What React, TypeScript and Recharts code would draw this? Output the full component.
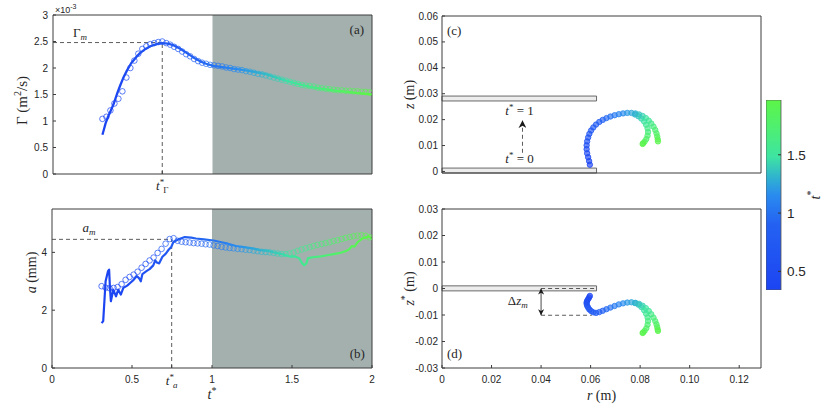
import React from 'react';
import {
  ComposedChart, Line, Scatter, XAxis, YAxis, ReferenceArea, ReferenceLine, ReferenceDot, BarChart, Bar,
} from 'recharts';

// ---------------- style constants ----------------
const SANS = '"Liberation Sans", Arial, sans-serif';
const SERIF = '"Liberation Serif", "Times New Roman", serif';
const INK = '#262626';
const FRAME = '#3c3c3c';
const SHADE = '#a4b0ae';
const PLATE_FILL = '#ececec';
const PLATE_STROKE = '#5a5a5a';
const GUIDE = '#333333';

// ---------------- colour map t* ----------------
const CB_MIN = 0.34;
const CB_MAX = 1.97;
const CB_TICKS = [0.5, 1, 1.5];
const CB_STOP_POS = [0, 0.35, 0.5, 0.6, 0.7, 0.85, 1];
const CB_STOP_COL = ['#1c44f2', '#2462f2', '#2a8cef', '#30b6cc', '#3ee4a2', '#4eef72', '#5cf548'];

// ---------------- panels (a) and (b): time axis ----------------
const T_TICKS = [0, 0.5, 1, 1.5, 2];
const SHADE_FROM = 1;
const SHADE_TO = 2;

const tCircles = [0.31, 0.335, 0.36, 0.385, 0.41, 0.435, 0.46, 0.485, 0.51, 0.535, 0.56, 0.585, 0.61, 0.635, 0.66, 0.685, 0.71, 0.735, 0.76, 0.785, 0.81, 0.835, 0.86, 0.885, 0.91, 0.935, 0.96, 0.985, 1.01, 1.035, 1.06, 1.085, 1.11, 1.135, 1.16, 1.185, 1.21, 1.235, 1.26, 1.285, 1.31, 1.335, 1.36, 1.385, 1.41, 1.435, 1.46, 1.485, 1.51, 1.535, 1.56, 1.585, 1.61, 1.635, 1.66, 1.685, 1.71, 1.735, 1.76, 1.785, 1.81, 1.835, 1.86, 1.885, 1.91, 1.935, 1.96, 1.985];

// (a) circulation, units 1e-3 m^2/s
const GAMMA_TICKS = [0, 0.5, 1, 1.5, 2, 2.5, 3];
const gammaCircles = [1.04, 1.08, 1.20, 1.33, 1.42, 1.56, 1.82, 2.00, 2.14, 2.27, 2.36, 2.41, 2.45, 2.47, 2.49, 2.50, 2.47, 2.44, 2.40, 2.36, 2.31, 2.26, 2.22, 2.17, 2.13, 2.10, 2.08, 2.06, 2.05, 2.04, 2.03, 2.01, 2.00, 1.98, 1.97, 1.96, 1.94, 1.93, 1.91, 1.89, 1.88, 1.86, 1.84, 1.82, 1.80, 1.78, 1.76, 1.74, 1.72, 1.70, 1.68, 1.67, 1.66, 1.65, 1.63, 1.62, 1.61, 1.60, 1.59, 1.58, 1.58, 1.57, 1.57, 1.56, 1.56, 1.55, 1.55, 1.54];
const tLineA = [0.31, 0.32, 0.33, 0.345, 0.36, 0.38, 0.40, 0.42, 0.44, 0.465, 0.49, 0.52, 0.545, 0.58, 0.61, 0.65, 0.685, 0.72, 0.755, 0.80, 0.84, 0.88, 0.92, 0.96, 1.005, 1.05, 1.13, 1.20, 1.27, 1.34, 1.40, 1.45, 1.50, 1.56, 1.62, 1.68, 1.75, 1.82, 1.90, 2.00];
const gammaLine = [0.74, 0.85, 0.96, 1.08, 1.18, 1.32, 1.50, 1.66, 1.81, 1.96, 2.09, 2.20, 2.28, 2.36, 2.41, 2.45, 2.47, 2.46, 2.43, 2.36, 2.28, 2.20, 2.13, 2.08, 2.04, 2.02, 1.99, 1.96, 1.92, 1.88, 1.82, 1.77, 1.73, 1.68, 1.64, 1.61, 1.58, 1.56, 1.53, 1.50];
const T_GAMMA_PEAK = 0.685;
const GAMMA_PEAK = 2.48;

// (b) core radius, mm
const A_TICKS = [0, 2, 4];
const aCircles = [2.83, 2.78, 2.76, 2.77, 2.80, 2.90, 3.05, 3.15, 3.23, 3.33, 3.47, 3.60, 3.72, 3.82, 3.98, 4.12, 4.30, 4.46, 4.49, 4.40, 4.37, 4.35, 4.34, 4.32, 4.31, 4.30, 4.28, 4.27, 4.24, 4.22, 4.19, 4.17, 4.15, 4.14, 4.12, 4.11, 4.09, 4.08, 4.06, 4.04, 4.02, 4.01, 4.00, 3.98, 3.96, 3.94, 3.94, 3.96, 3.99, 4.05, 4.10, 4.14, 4.18, 4.22, 4.26, 4.29, 4.32, 4.35, 4.39, 4.42, 4.46, 4.50, 4.53, 4.56, 4.58, 4.59, 4.57, 4.52];
const tLineB = [0.31, 0.32, 0.335, 0.35, 0.357, 0.362, 0.368, 0.383, 0.40, 0.414, 0.43, 0.446, 0.47, 0.49, 0.51, 0.53, 0.545, 0.555, 0.565, 0.59, 0.61, 0.633, 0.645, 0.655, 0.67, 0.69, 0.71, 0.73, 0.745, 0.758, 0.79, 0.83, 0.87, 0.90, 0.95, 1.01, 1.06, 1.10, 1.15, 1.20, 1.25, 1.30, 1.35, 1.40, 1.45, 1.49, 1.52, 1.545, 1.56, 1.575, 1.59, 1.60, 1.63, 1.68, 1.72, 1.76, 1.80, 1.84, 1.86, 1.875, 1.89, 1.91, 1.935, 1.96, 1.98, 2.00];
const aLine = [1.55, 1.62, 3.00, 3.35, 3.40, 2.80, 2.31, 2.71, 2.48, 2.71, 2.54, 2.77, 2.85, 2.95, 3.05, 3.18, 3.10, 3.00, 3.25, 3.35, 3.42, 3.55, 3.72, 3.65, 3.62, 3.85, 3.95, 4.10, 4.18, 4.35, 4.45, 4.53, 4.51, 4.48, 4.45, 4.41, 4.35, 4.30, 4.22, 4.18, 4.14, 4.08, 4.05, 3.98, 3.92, 3.85, 3.86, 3.80, 3.65, 3.55, 3.62, 3.80, 3.83, 3.86, 3.90, 3.94, 3.98, 4.05, 4.12, 4.22, 4.20, 4.35, 4.46, 4.52, 4.55, 4.48];
const T_A_PEAK = 0.748;
const A_PEAK = 4.45;

// ---------------- panels (c) and (d): trajectories ----------------
const R_TICKS = [0, 0.02, 0.04, 0.06, 0.08, 0.1, 0.12];
const R_MAX = 0.1288;
const Z_TICKS = [0, 0.01, 0.02, 0.03, 0.04, 0.05, 0.06];
const ZS_TICKS = [-0.03, -0.02, -0.01, 0, 0.01, 0.02, 0.03];

const tTrack = [0.34, 0.38, 0.42, 0.46, 0.50, 0.54, 0.58, 0.62, 0.66, 0.70, 0.75, 0.80, 0.85, 0.90, 0.95, 1.00, 1.05, 1.10, 1.15, 1.20, 1.25, 1.30, 1.36, 1.42, 1.48, 1.54, 1.60, 1.66, 1.72, 1.78, 1.84, 1.90, 1.95];
const rTrack = [0.0597, 0.0594, 0.0590, 0.0586, 0.0584, 0.0584, 0.0586, 0.0590, 0.0595, 0.0602, 0.0611, 0.0622, 0.0635, 0.0649, 0.0664, 0.0680, 0.0697, 0.0714, 0.0731, 0.0748, 0.0765, 0.0781, 0.0796, 0.0810, 0.0823, 0.0835, 0.0845, 0.0854, 0.0861, 0.0866, 0.0869, 0.0871, 0.0872];
const zTrack = [0.0026, 0.0040, 0.0055, 0.0070, 0.0086, 0.0101, 0.0116, 0.0131, 0.0145, 0.0158, 0.0170, 0.0181, 0.0191, 0.0199, 0.0206, 0.0212, 0.0217, 0.0221, 0.0224, 0.0226, 0.0226, 0.0224, 0.0220, 0.0214, 0.0206, 0.0196, 0.0185, 0.0173, 0.0160, 0.0147, 0.0135, 0.0124, 0.0116];
const zsTrack = [-0.0028, -0.0034, -0.0040, -0.0046, -0.0052, -0.0058, -0.0065, -0.0072, -0.0079, -0.0085, -0.0090, -0.0092, -0.0089, -0.0084, -0.0078, -0.0072, -0.0066, -0.0060, -0.0056, -0.0053, -0.0052, -0.0054, -0.0058, -0.0065, -0.0074, -0.0085, -0.0097, -0.0110, -0.0123, -0.0135, -0.0146, -0.0155, -0.0160];

const tBranch = [1.30, 1.36, 1.42, 1.48, 1.54, 1.60, 1.66, 1.72, 1.78, 1.84, 1.90, 1.95];
const rBranch = [0.0779, 0.0793, 0.0805, 0.0816, 0.0824, 0.0830, 0.0832, 0.0830, 0.0825, 0.0818, 0.0812, 0.0810];
const zBranch = [0.0220, 0.0213, 0.0204, 0.0193, 0.0180, 0.0166, 0.0152, 0.0138, 0.0125, 0.0115, 0.0109, 0.0106];
const zsBranch = [-0.0055, -0.0061, -0.0070, -0.0082, -0.0095, -0.0109, -0.0123, -0.0137, -0.0150, -0.0160, -0.0166, -0.0168];

// nozzle plates (r extent and z extents)
const PLATE_R = 0.0624;
const PLATE_TOP_C = [0.0272, 0.0291];
const PLATE_BOT_C = [-0.0006, 0.0013];
const PLATE_D = [-0.0009, 0.001];
const Z_C_MIN = -0.0006;

// annotations
const ARROW_R = 0.0325;
const ARROW_Z = [0.0072, 0.0198];
const DZ_R = 0.04;
const DZ_M = -0.0101;
const DZ_R_END = 0.0605;

// ---------------- helpers ----------------
function hexRgb(h: string) {
  const n = parseInt(h.slice(1), 16);
  return [(n >> 16) & 255, (n >> 8) & 255, n & 255];
}
function tColor(t: number) {
  const f = Math.max(0, Math.min(1, (t - CB_MIN) / (CB_MAX - CB_MIN)));
  for (let i = 1; i < CB_STOP_POS.length; i++) {
    if (f <= CB_STOP_POS[i]) {
      const u = (f - CB_STOP_POS[i - 1]) / (CB_STOP_POS[i] - CB_STOP_POS[i - 1]);
      const a = hexRgb(CB_STOP_COL[i - 1]);
      const b = hexRgb(CB_STOP_COL[i]);
      const c = a.map((v, k) => Math.round(v + (b[k] - v) * u));
      return `rgb(${c[0]},${c[1]},${c[2]})`;
    }
  }
  return CB_STOP_COL[CB_STOP_COL.length - 1];
}

function tGradient(id: string, ts: number[]) {
  const lo = ts[0];
  const hi = ts[ts.length - 1];
  const n = 16;
  return (
    <linearGradient id={id} x1="0" y1="0" x2="1" y2="0">
      {Array.from({ length: n + 1 }, (_, k) => (
        <stop key={k} offset={k / n} stopColor={tColor(lo + ((hi - lo) * k) / n)} />
      ))}
    </linearGradient>
  );
}

const Ring = (p: any) =>
  p.cx == null ? null : (
    <circle cx={p.cx} cy={p.cy} r={2.8} fill="none" stroke={tColor(p.payload.t)} strokeWidth={0.8} strokeOpacity={0.9} />
  );

const Dotlet = (p: any) =>
  p.cx == null ? null : (
    <circle cx={p.cx} cy={p.cy} r={2.7} fill={tColor(p.payload.t)} fillOpacity={0.65} stroke={tColor(p.payload.t)} strokeWidth={0.8} />
  );

const tickFont = { fontSize: 10, fill: INK, fontFamily: SANS };

function note(key: string, x: number, y: number, render: (cx: number, cy: number) => React.ReactNode) {
  return (
    <ReferenceDot
      key={key}
      x={x}
      y={y}
      r={0}
      fill="none"
      stroke="none"
      label={(p: any) => <g>{render(p.viewBox.x, p.viewBox.y)}</g>}
    />
  );
}

const serifText = { fontFamily: SERIF, fill: INK };

// ---------------- panel (a) ----------------
const TGammaTick = (p: any) => (
  <text x={p.x} y={p.y + 13} textAnchor="middle" fontSize={13} {...serifText}>
    <tspan fontStyle="italic">t</tspan>
    <tspan fontSize={9} dy={-5}>*</tspan>
    <tspan fontSize={9} dx={-1} dy={8}>Γ</tspan>
  </text>
);

function PanelA() {
  const circles = tCircles.map((t, i) => ({ x: t, y: gammaCircles[i], t }));
  const line = tLineA.map((t, i) => ({ x: t, y: gammaLine[i] }));
  return (
    <ComposedChart width={380} height={200} margin={{ top: 0, right: 0, bottom: 0, left: 0 }}>
      <defs>{tGradient('gradLineA', tLineA)}</defs>
      <XAxis xAxisId="top" orientation="top" type="number" domain={[0, 2]} allowDataOverflow height={15}
        tick={false} tickLine={false} axisLine={{ stroke: FRAME }} />
      <XAxis dataKey="x" type="number" domain={[0, 2]} allowDataOverflow height={26} ticks={[T_GAMMA_PEAK]}
        tickSize={-3} tickMargin={6} tick={<TGammaTick />} axisLine={{ stroke: FRAME }} tickLine={{ stroke: FRAME }} />
      <YAxis dataKey="y" type="number" domain={[0, 3]} allowDataOverflow width={53} ticks={GAMMA_TICKS}
        tickSize={-3} tickMargin={8} tick={tickFont} axisLine={{ stroke: FRAME }} tickLine={{ stroke: FRAME }}
        label={(p: any) => {
          const vb = p.viewBox;
          return (
            <g>
              <text transform={`translate(${vb.x + 22},${vb.y + vb.height / 2 + 6}) rotate(-90)`} textAnchor="middle"
                dominantBaseline="central" fontSize={15} {...serifText}>
                Γ (m<tspan fontSize={10} dy={-5}>2</tspan><tspan dy={5}>/s)</tspan>
              </text>
              <text x={vb.x + vb.width + 2} y={vb.y - 2} fontSize={9} fontFamily={SANS} fill={INK}>
                ×10<tspan fontSize={7} dy={-4}>-3</tspan>
              </text>
            </g>
          );
        }} />
      <YAxis yAxisId="right" orientation="right" type="number" domain={[0, 3]} allowDataOverflow width={8}
        ticks={GAMMA_TICKS} tickSize={-3} tick={false} axisLine={{ stroke: FRAME }} tickLine={{ stroke: FRAME }} />
      <ReferenceArea x1={SHADE_FROM} x2={SHADE_TO} fill={SHADE} fillOpacity={1} stroke="none" />
      <ReferenceLine segment={[{ x: 0, y: GAMMA_PEAK }, { x: T_GAMMA_PEAK, y: GAMMA_PEAK }]} stroke={GUIDE}
        strokeDasharray="4 3" strokeWidth={0.8} />
      <ReferenceLine segment={[{ x: T_GAMMA_PEAK, y: 0 }, { x: T_GAMMA_PEAK, y: GAMMA_PEAK }]} stroke={GUIDE}
        strokeDasharray="4 3" strokeWidth={0.8} />
      <Scatter data={circles} shape={Ring} isAnimationActive={false} />
      <Line data={line} dataKey="y" type="linear" stroke="url(#gradLineA)" strokeWidth={2.3} dot={false}
        activeDot={false} isAnimationActive={false} strokeLinejoin="round" />
      {note('gm', 0.125, 2.585, (x, y) => (
        <text x={x} y={y} fontSize={13} {...serifText}>Γ<tspan fontSize={9} fontStyle="italic" dy={3}>m</tspan></text>
      ))}
      {note('pa', 1.95, 2.64, (x, y) => (
        <text x={x} y={y} fontSize={13} textAnchor="end" {...serifText}>(a)</text>
      ))}
    </ComposedChart>
  );
}

// ---------------- panel (b) ----------------
const BTick = (p: any) => {
  const v = p.payload.value;
  if (Math.abs(v - T_A_PEAK) < 1e-6) {
    return (
      <text x={p.x} y={p.y + 9} textAnchor="middle" fontSize={13} {...serifText}>
        <tspan fontStyle="italic">t</tspan>
        <tspan fontSize={9} dy={-5}>*</tspan>
        <tspan fontSize={9} fontStyle="italic" dx={-1} dy={8}>a</tspan>
      </text>
    );
  }
  return (
    <text x={p.x} y={p.y + 7} textAnchor="middle" fontSize={10} fontFamily={SANS} fill={INK}>{String(v)}</text>
  );
};

function PanelB() {
  const circles = tCircles.map((t, i) => ({ x: t, y: aCircles[i], t }));
  const line = tLineB.map((t, i) => ({ x: t, y: aLine[i] }));
  const xTicks = [...T_TICKS, T_A_PEAK].sort((p, q) => p - q);
  return (
    <ComposedChart width={380} height={216} margin={{ top: 0, right: 0, bottom: 0, left: 0 }}>
      <defs>{tGradient('gradLineB', tLineB)}</defs>
      <XAxis xAxisId="top" orientation="top" type="number" domain={[0, 2]} allowDataOverflow height={9}
        ticks={T_TICKS} tickSize={-3} tick={false} axisLine={{ stroke: FRAME }} tickLine={{ stroke: FRAME }} />
      <XAxis dataKey="x" type="number" domain={[0, 2]} allowDataOverflow height={48} ticks={xTicks}
        tickSize={-3} tickMargin={11} tick={<BTick />} axisLine={{ stroke: FRAME }} tickLine={{ stroke: FRAME }}
        label={(p: any) => {
          const vb = p.viewBox;
          return (
            <text x={vb.x + vb.width / 2} y={vb.y + 31} textAnchor="middle" fontSize={14} {...serifText}>
              <tspan fontStyle="italic">t</tspan><tspan fontSize={10} dy={-5}>*</tspan>
            </text>
          );
        }} />
      <YAxis dataKey="y" type="number" domain={[0, 5.5]} allowDataOverflow width={52} ticks={A_TICKS}
        tickSize={-3} tickMargin={8} tick={tickFont} axisLine={{ stroke: FRAME }} tickLine={{ stroke: FRAME }}
        label={(p: any) => {
          const vb = p.viewBox;
          return (
            <text transform={`translate(${vb.x + 31},${vb.y + vb.height / 2 - 16}) rotate(-90)`} textAnchor="middle"
              dominantBaseline="central" fontSize={14} {...serifText}>
              <tspan fontStyle="italic">a</tspan> (mm)
            </text>
          );
        }} />
      <YAxis yAxisId="right" orientation="right" type="number" domain={[0, 5.5]} allowDataOverflow width={8}
        ticks={A_TICKS} tickSize={-3} tick={false} axisLine={{ stroke: FRAME }} tickLine={{ stroke: FRAME }} />
      <ReferenceArea x1={SHADE_FROM} x2={SHADE_TO} fill={SHADE} fillOpacity={1} stroke="none" />
      <ReferenceLine segment={[{ x: 0, y: A_PEAK }, { x: T_A_PEAK, y: A_PEAK }]} stroke={GUIDE}
        strokeDasharray="4 3" strokeWidth={0.8} />
      <ReferenceLine segment={[{ x: T_A_PEAK, y: 0 }, { x: T_A_PEAK, y: A_PEAK }]} stroke={GUIDE}
        strokeDasharray="4 3" strokeWidth={0.8} />
      <Scatter data={circles} shape={Ring} isAnimationActive={false} />
      <Line data={line} dataKey="y" type="linear" stroke="url(#gradLineB)" strokeWidth={2.2} dot={false}
        activeDot={false} isAnimationActive={false} strokeLinejoin="round" />
      {note('am', 0.19, 4.7, (x, y) => (
        <text x={x} y={y} fontSize={13} {...serifText}>
          <tspan fontStyle="italic">a</tspan><tspan fontSize={9} fontStyle="italic" dy={3}>m</tspan>
        </text>
      ))}
      {note('pb', 1.955, 0.35, (x, y) => (
        <text x={x} y={y} fontSize={13} textAnchor="end" {...serifText}>(b)</text>
      ))}
    </ComposedChart>
  );
}

// ---------------- panel (c) ----------------
function PanelC() {
  const track = tTrack.map((t, i) => ({ x: rTrack[i], y: zTrack[i], t }));
  const branch = tBranch.map((t, i) => ({ x: rBranch[i], y: zBranch[i], t }));
  return (
    <ComposedChart width={376} height={200} margin={{ top: 0, right: 0, bottom: 0, left: 0 }}>
      <defs>
        <marker id="arrUp" viewBox="0 0 10 10" refX="10" refY="5" markerWidth="8" markerHeight="8"
          markerUnits="userSpaceOnUse" orient="auto">
          <path d="M0,0 L10,5 L0,10 L3,5 z" fill="#1a1a1a" />
        </marker>
      </defs>
      <XAxis xAxisId="top" orientation="top" type="number" domain={[0, R_MAX]} allowDataOverflow height={16}
        ticks={R_TICKS} tickSize={-3} tick={false} axisLine={{ stroke: FRAME }} tickLine={{ stroke: FRAME }} />
      <XAxis dataKey="x" type="number" domain={[0, R_MAX]} allowDataOverflow height={27} ticks={R_TICKS}
        tickSize={-3} tick={false} axisLine={{ stroke: FRAME }} tickLine={{ stroke: FRAME }} />
      <YAxis dataKey="y" type="number" domain={[Z_C_MIN, 0.06]} allowDataOverflow width={52} ticks={Z_TICKS}
        tickSize={-3} tickMargin={7} tick={tickFont} axisLine={{ stroke: FRAME }} tickLine={{ stroke: FRAME }}
        label={(p: any) => {
          const vb = p.viewBox;
          return (
            <text transform={`translate(${vb.x + 19},${vb.y + vb.height / 2}) rotate(-90)`} textAnchor="middle"
              dominantBaseline="central" fontSize={14} {...serifText}>
              <tspan fontStyle="italic">z</tspan> (m)
            </text>
          );
        }} />
      <YAxis yAxisId="right" orientation="right" type="number" domain={[Z_C_MIN, 0.06]} allowDataOverflow width={5}
        ticks={Z_TICKS} tickSize={-3} tick={false} axisLine={{ stroke: FRAME }} tickLine={{ stroke: FRAME }} />
      <ReferenceArea x1={0} x2={PLATE_R} y1={PLATE_TOP_C[0]} y2={PLATE_TOP_C[1]} fill={PLATE_FILL} fillOpacity={1}
        stroke={PLATE_STROKE} strokeWidth={0.9} />
      <ReferenceArea x1={0} x2={PLATE_R} y1={PLATE_BOT_C[0]} y2={PLATE_BOT_C[1]} fill={PLATE_FILL} fillOpacity={1}
        stroke={PLATE_STROKE} strokeWidth={0.9} />
      <ReferenceLine segment={[{ x: ARROW_R, y: ARROW_Z[0] }, { x: ARROW_R, y: ARROW_Z[1] }]} stroke={GUIDE}
        strokeDasharray="4 3" strokeWidth={0.8} markerEnd="url(#arrUp)" />
      <Scatter data={track} shape={Dotlet} isAnimationActive={false} />
      <Scatter data={branch} shape={Dotlet} isAnimationActive={false} />
      {note('t1', 0.0313, 0.0218, (x, y) => (
        <text x={x} y={y} fontSize={13} textAnchor="middle" {...serifText}>
          <tspan fontStyle="italic">t</tspan><tspan fontSize={9} dy={-5}>*</tspan><tspan dy={5}> = 1</tspan>
        </text>
      ))}
      {note('t0', 0.0313, 0.0033, (x, y) => (
        <text x={x} y={y} fontSize={13} textAnchor="middle" {...serifText}>
          <tspan fontStyle="italic">t</tspan><tspan fontSize={9} dy={-5}>*</tspan><tspan dy={5}> = 0</tspan>
        </text>
      ))}
      {note('pc', 0.002, 0.0526, (x, y) => (
        <text x={x} y={y} fontSize={13} {...serifText}>(c)</text>
      ))}
    </ComposedChart>
  );
}

// ---------------- panel (d) ----------------
const rFmt = (v: number) => (v === 0 ? '0' : v.toFixed(2));

function PanelD() {
  const track = tTrack.map((t, i) => ({ x: rTrack[i], y: zsTrack[i], t }));
  const branch = tBranch.map((t, i) => ({ x: rBranch[i], y: zsBranch[i], t }));
  return (
    <ComposedChart width={376} height={216} margin={{ top: 0, right: 0, bottom: 0, left: 0 }}>
      <defs>
        <marker id="arrDz" viewBox="0 0 10 10" refX="10" refY="5" markerWidth="6" markerHeight="6"
          markerUnits="userSpaceOnUse" orient="auto-start-reverse">
          <path d="M0,0 L10,5 L0,10 L3,5 z" fill="#1a1a1a" />
        </marker>
      </defs>
      <XAxis xAxisId="top" orientation="top" type="number" domain={[0, R_MAX]} allowDataOverflow height={9}
        ticks={R_TICKS} tickSize={-3} tick={false} axisLine={{ stroke: FRAME }} tickLine={{ stroke: FRAME }} />
      <XAxis dataKey="x" type="number" domain={[0, R_MAX]} allowDataOverflow height={48} ticks={R_TICKS}
        tickSize={-3} tickMargin={11} tick={tickFont} tickFormatter={rFmt} axisLine={{ stroke: FRAME }}
        tickLine={{ stroke: FRAME }}
        label={(p: any) => {
          const vb = p.viewBox;
          return (
            <text x={vb.x + vb.width / 2} y={vb.y + 32} textAnchor="middle" fontSize={14} {...serifText}>
              <tspan fontStyle="italic">r</tspan> (m)
            </text>
          );
        }} />
      <YAxis dataKey="y" type="number" domain={[-0.03, 0.03]} allowDataOverflow width={52} ticks={ZS_TICKS}
        tickSize={-3} tickMargin={7} tick={tickFont} axisLine={{ stroke: FRAME }} tickLine={{ stroke: FRAME }}
        label={(p: any) => {
          const vb = p.viewBox;
          return (
            <text transform={`translate(${vb.x + 19},${vb.y + vb.height / 2}) rotate(-90)`} textAnchor="middle"
              dominantBaseline="central" fontSize={14} {...serifText}>
              <tspan fontStyle="italic">z</tspan><tspan fontSize={10} dy={-5}>*</tspan><tspan dy={5}> (m)</tspan>
            </text>
          );
        }} />
      <YAxis yAxisId="right" orientation="right" type="number" domain={[-0.03, 0.03]} allowDataOverflow width={5}
        ticks={ZS_TICKS} tickSize={-3} tick={false} axisLine={{ stroke: FRAME }} tickLine={{ stroke: FRAME }} />
      <ReferenceArea x1={0} x2={PLATE_R} y1={PLATE_D[0]} y2={PLATE_D[1]} fill={PLATE_FILL} fillOpacity={1}
        stroke={PLATE_STROKE} strokeWidth={0.9} />
      <ReferenceLine segment={[{ x: DZ_R, y: 0 }, { x: PLATE_R - 0.001, y: 0 }]} stroke={GUIDE}
        strokeDasharray="4 3" strokeWidth={0.8} />
      <ReferenceLine segment={[{ x: DZ_R, y: DZ_M }, { x: DZ_R_END, y: DZ_M }]} stroke={GUIDE}
        strokeDasharray="4 3" strokeWidth={0.8} />
      <ReferenceLine segment={[{ x: DZ_R, y: 0 }, { x: DZ_R, y: DZ_M }]} stroke="#1a1a1a" strokeWidth={0.8}
        markerStart="url(#arrDz)" markerEnd="url(#arrDz)" />
      <Scatter data={track} shape={Dotlet} isAnimationActive={false} />
      <Scatter data={branch} shape={Dotlet} isAnimationActive={false} />
      {note('dz', 0.0306, -0.0063, (x, y) => (
        <text x={x} y={y} fontSize={13} textAnchor="middle" {...serifText}>
          Δ<tspan fontStyle="italic">z</tspan><tspan fontSize={9} fontStyle="italic" dy={3}>m</tspan>
        </text>
      ))}
      {note('pd', 0.002, -0.0263, (x, y) => (
        <text x={x} y={y} fontSize={13} {...serifText}>(d)</text>
      ))}
    </ComposedChart>
  );
}

// ---------------- colour bar ----------------
function ColorBar() {
  const data = [{ name: 'cb', range: [CB_MIN, CB_MAX] }];
  return (
    <BarChart width={65} height={190} data={data} margin={{ top: 0, right: 0, bottom: 0, left: 0 }}
      barCategoryGap={0}>
      <defs>
        <linearGradient id="cbGrad" x1="0" y1="1" x2="0" y2="0">
          {CB_STOP_POS.map((p, i) => <stop key={i} offset={p} stopColor={CB_STOP_COL[i]} />)}
        </linearGradient>
      </defs>
      <XAxis dataKey="name" hide />
      <YAxis orientation="right" type="number" domain={[CB_MIN, CB_MAX]} allowDataOverflow ticks={CB_TICKS}
        width={50} tickSize={-3} tickMargin={9} axisLine={false} tickLine={{ stroke: '#333' }}
        tick={{ fontSize: 13.5, fill: INK, fontFamily: SANS }}
        label={(p: any) => {
          const vb = p.viewBox;
          return (
            <text transform={`translate(${vb.x + 34},${vb.y + vb.height / 2}) rotate(-90)`} textAnchor="middle"
              dominantBaseline="central" fontSize={14} {...serifText}>
              <tspan fontStyle="italic">t</tspan><tspan fontSize={10} dy={-5}>*</tspan>
            </text>
          );
        }} />
      <Bar dataKey="range" fill="url(#cbGrad)" stroke="#555" strokeWidth={0.8} isAnimationActive={false} />
    </BarChart>
  );
}

export default function App() {
  return (
    <div style={{ position: 'absolute', left: 0, top: 0, width: 831, height: 416, background: '#fff', overflow: 'hidden' }}>
      <div style={{ position: 'absolute', left: 0, top: 0 }}><PanelA /></div>
      <div style={{ position: 'absolute', left: 0, top: 200 }}><PanelB /></div>
      <div style={{ position: 'absolute', left: 390, top: 0 }}><PanelC /></div>
      <div style={{ position: 'absolute', left: 390, top: 200 }}><PanelD /></div>
      <div style={{ position: 'absolute', left: 766, top: 100 }}><ColorBar /></div>
    </div>
  );
}
